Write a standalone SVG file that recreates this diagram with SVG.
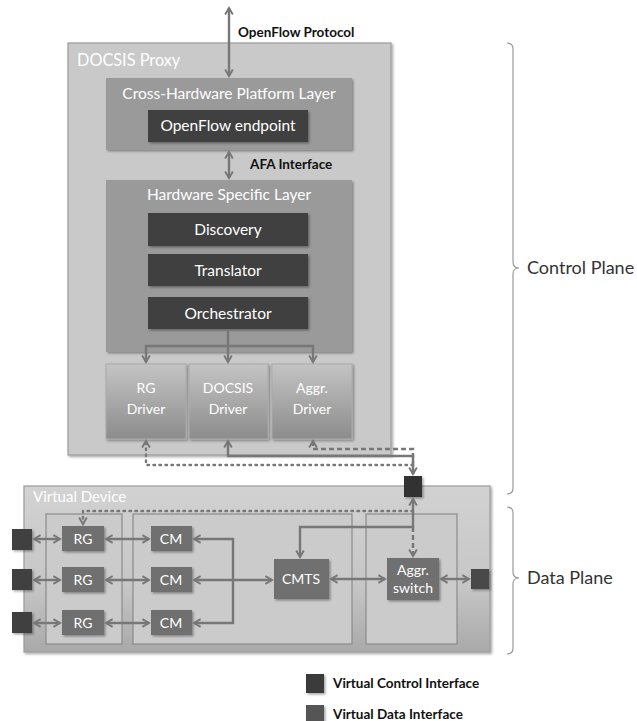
<svg xmlns="http://www.w3.org/2000/svg" width="637" height="721" viewBox="0 0 637 721">
<style>
text{font-family:Lato,"Open Sans","Liberation Sans",sans-serif}
.w{fill:#fff;font-size:14px;text-anchor:middle}
.wl{fill:#fff;font-size:15.5px;text-anchor:middle}
.lbl{fill:#111;font-size:13.5px;font-weight:bold}
.side{fill:#333;font-size:18px}
.dark{fill:#404040}
.node{fill:#707070}
.ibox{fill:#cbcbcb;stroke:#8a8a8a;stroke-width:1.2}
.c{fill:none;stroke:#777;stroke-width:2.4}
.dash{stroke-dasharray:5 3}
.dot{stroke-dasharray:1.5 4.5;stroke-linecap:round}
.br{fill:none;stroke:#999;stroke-width:1.2}
</style>
<defs>
<marker id="ah" viewBox="0 0 8 8" refX="6.5" refY="4" markerWidth="4" markerHeight="4" orient="auto-start-reverse" markerUnits="strokeWidth">
<path d="M1,0.8 L6.5,4 L1,7.2" fill="none" stroke="#777" stroke-width="1.6"/>
</marker>
<filter id="sh" x="-20%" y="-20%" width="150%" height="150%">
<feDropShadow dx="1.5" dy="1.5" stdDeviation="1" flood-color="#000" flood-opacity="0.35"/>
</filter>
<linearGradient id="drv" x1="0" y1="0" x2="0" y2="1">
<stop offset="0" stop-color="#c4c4c4"/><stop offset="1" stop-color="#8c8c8c"/>
</linearGradient>
<linearGradient id="vd" x1="0" y1="0" x2="0" y2="1">
<stop offset="0" stop-color="#d2d2d2"/><stop offset="0.6" stop-color="#c6c6c6"/><stop offset="1" stop-color="#a9a9a9"/>
</linearGradient>
</defs>
<rect width="637" height="721" fill="#fff"/>

<g id="docsis-proxy">
<rect x="68" y="43" width="323" height="412" fill="#c9c9c9" stroke="#9c9c9c" stroke-width="1.2" filter="url(#sh)"/>
<text x="77" y="66" fill="#fff" font-size="16.3">DOCSIS Proxy</text>
</g>
<g id="cross-hw-layer">
<rect x="106" y="78" width="246" height="72" fill="#9a9a9a" filter="url(#sh)"/>
<text class="wl" x="229" y="99">Cross-Hardware Platform Layer</text>
</g>
<g id="openflow-endpoint">
<rect class="dark" x="148" y="110" width="160" height="32" filter="url(#sh)"/>
<text class="wl" x="228" y="131">OpenFlow endpoint</text>
</g>
<g id="hw-specific-layer">
<rect x="106" y="180" width="246" height="172" fill="#9a9a9a" filter="url(#sh)"/>
<text class="wl" x="229" y="200">Hardware Specific Layer</text>
</g>
<g id="discovery">
<rect class="dark" x="148" y="213" width="160" height="33" filter="url(#sh)"/>
<text class="wl" x="228" y="235">Discovery</text>
</g>
<g id="translator">
<rect class="dark" x="148" y="254" width="160" height="32" filter="url(#sh)"/>
<text class="wl" x="228" y="276">Translator</text>
</g>
<g id="orchestrator">
<rect class="dark" x="148" y="297" width="160" height="32" filter="url(#sh)"/>
<text class="wl" x="228" y="319">Orchestrator</text>
</g>
<g id="rg-driver">
<rect x="106" y="364" width="80" height="75" fill="url(#drv)" stroke="#aaa" filter="url(#sh)"/>
<text class="w" x="146" y="393">RG</text><text class="w" x="146" y="414">Driver</text>
</g>
<g id="docsis-driver">
<rect x="189" y="364" width="79" height="75" fill="url(#drv)" stroke="#aaa" filter="url(#sh)"/>
<text class="w" x="228" y="393">DOCSIS</text><text class="w" x="228" y="414">Driver</text>
</g>
<g id="aggr-driver">
<rect x="272" y="364" width="80" height="75" fill="url(#drv)" stroke="#aaa" filter="url(#sh)"/>
<text class="w" x="312" y="393">Aggr.</text><text class="w" x="312" y="414">Driver</text>
</g>

<g id="virtual-device">
<rect x="24" y="486" width="466" height="166" fill="url(#vd)" stroke="#9c9c9c" stroke-width="1.2" filter="url(#sh)"/>
<text x="33" y="502" fill="#fff" font-size="15">Virtual Device</text>
<rect class="ibox" x="46" y="514" width="76" height="130"/>
<rect class="ibox" x="133" y="514" width="219" height="130"/>
<rect class="ibox" x="366" y="514" width="91" height="130"/>
</g>
<g id="rg1"><rect class="node" x="62" y="526" width="42" height="25" filter="url(#sh)"/><text class="w" x="83" y="544">RG</text></g>
<g id="rg2"><rect class="node" x="62" y="567" width="42" height="25" filter="url(#sh)"/><text class="w" x="83" y="585">RG</text></g>
<g id="rg3"><rect class="node" x="62" y="610" width="42" height="25" filter="url(#sh)"/><text class="w" x="83" y="628">RG</text></g>
<g id="cm1"><rect class="node" x="151" y="526" width="41" height="25" filter="url(#sh)"/><text class="w" x="171" y="544">CM</text></g>
<g id="cm2"><rect class="node" x="151" y="567" width="41" height="25" filter="url(#sh)"/><text class="w" x="171" y="585">CM</text></g>
<g id="cm3"><rect class="node" x="151" y="610" width="41" height="25" filter="url(#sh)"/><text class="w" x="171" y="628">CM</text></g>
<g id="cmts"><rect class="node" x="274" y="559" width="55" height="40" filter="url(#sh)"/><text class="w" x="301" y="584">CMTS</text></g>
<g id="aggr-switch"><rect class="node" x="387" y="558" width="52" height="42" filter="url(#sh)"/><text class="w" x="413" y="575">Aggr.</text><text class="w" x="413" y="593">switch</text></g>

<g id="data-if-1"><rect x="12" y="529" width="20" height="21" fill="#404040" filter="url(#sh)"/></g>
<g id="data-if-2"><rect x="12" y="569" width="20" height="21" fill="#404040" filter="url(#sh)"/></g>
<g id="data-if-3"><rect x="12" y="612" width="20" height="21" fill="#404040" filter="url(#sh)"/></g>
<g id="data-if-right"><rect x="471" y="569" width="18" height="20" fill="#484848" filter="url(#sh)"/></g>
<g id="control-if"><rect x="404" y="476" width="18" height="21" fill="#333" filter="url(#sh)"/></g>

<g id="connectors">
<line class="c" x1="229" y1="8" x2="229" y2="76" marker-start="url(#ah)" marker-end="url(#ah)"/>
<line class="c" x1="229" y1="152" x2="229" y2="178" marker-start="url(#ah)" marker-end="url(#ah)"/>
<line class="c" x1="228" y1="329" x2="228" y2="362" marker-end="url(#ah)"/>
<polyline class="c" points="146,362 146,346 313,346 313,362" marker-start="url(#ah)" marker-end="url(#ah)"/>
<polyline class="c dot" points="413,465 146,465 146,441" marker-end="url(#ah)"/>
<polyline class="c" points="413,474 413,456 228,456 228,441" marker-start="url(#ah)" marker-end="url(#ah)"/>
<polyline class="c dash" points="413,474 413,449 313,449 313,441" marker-end="url(#ah)"/>
<polyline class="c" points="413,499 413,527 300,527 300,557" marker-start="url(#ah)" marker-end="url(#ah)"/>
<line class="c dash" x1="413" y1="527" x2="413" y2="556" marker-end="url(#ah)"/>
<polyline class="c dot" points="413,511 83,511 83,524" marker-end="url(#ah)"/>
<line class="c" x1="34" y1="539" x2="60" y2="539" marker-start="url(#ah)" marker-end="url(#ah)"/>
<line class="c" x1="34" y1="580" x2="60" y2="580" marker-start="url(#ah)" marker-end="url(#ah)"/>
<line class="c" x1="34" y1="623" x2="60" y2="623" marker-start="url(#ah)" marker-end="url(#ah)"/>
<line class="c" x1="106" y1="539" x2="149" y2="539" marker-start="url(#ah)" marker-end="url(#ah)"/>
<line class="c" x1="106" y1="580" x2="149" y2="580" marker-start="url(#ah)" marker-end="url(#ah)"/>
<line class="c" x1="106" y1="623" x2="149" y2="623" marker-start="url(#ah)" marker-end="url(#ah)"/>
<polyline class="c" points="194,539 233,539 233,623 194,623" marker-start="url(#ah)" marker-end="url(#ah)"/>
<line class="c" x1="194" y1="580" x2="272" y2="580" marker-start="url(#ah)" marker-end="url(#ah)"/>
<line class="c" x1="331" y1="579" x2="385" y2="579" marker-start="url(#ah)" marker-end="url(#ah)"/>
<line class="c" x1="441" y1="579" x2="469" y2="579" marker-start="url(#ah)" marker-end="url(#ah)"/>
</g>

<g id="labels">
<text class="lbl" x="238" y="37">OpenFlow Protocol</text>
<text class="lbl" x="250" y="169">AFA Interface</text>
</g>

<g id="control-plane-bracket">
<path class="br" d="M507,43 Q513,43 513,49 V262 Q513,268 519,268 Q513,268 513,274 V488 Q513,494 507,494"/>
<text class="side" x="527" y="274">Control Plane</text>
</g>
<g id="data-plane-bracket">
<path class="br" d="M507,507 Q513,507 513,513 V572 Q513,578 519,578 Q513,578 513,584 V648 Q513,654 507,654"/>
<text class="side" x="527" y="584">Data Plane</text>
</g>

<g id="legend">
<rect x="306" y="674" width="18" height="19" fill="#3b3b3b" filter="url(#sh)"/>
<text class="lbl" x="333" y="688" font-size="13.3">Virtual Control Interface</text>
<rect x="306" y="705" width="18" height="19" fill="#555" filter="url(#sh)"/>
<text class="lbl" x="333" y="719" font-size="13.3">Virtual Data Interface</text>
</g>
</svg>
